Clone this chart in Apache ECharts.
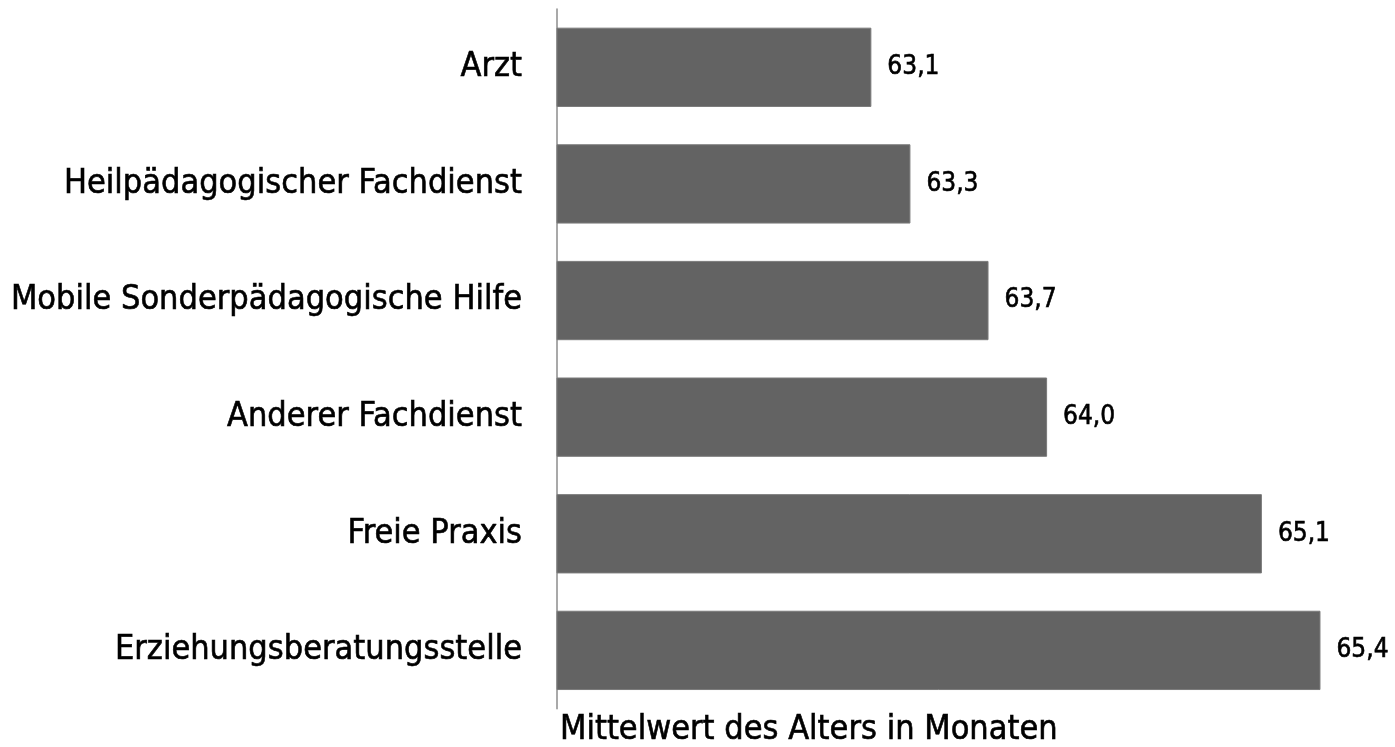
<!DOCTYPE html>
<html>
<head>
<meta charset="utf-8">
<script src="https://cdn.jsdelivr.net/npm/echarts@6/dist/echarts.min.js"></script>
<style>
  html, body { margin: 0; padding: 0; background: #fff; }
  #container { width: 1395px; height: 747px; }
</style>
</head>
<body>
<div id="container"></div>
<script>
var stellen = ['Arzt', 'Heilpädagogischer Fachdienst', 'Mobile Sonderpädagogische Hilfe',
  'Anderer Fachdienst', 'Freie Praxis', 'Erziehungsberatungsstelle'];
var mittelwerte = [63.1, 63.3, 63.7, 64.0, 65.1, 65.4];
var achsenName = 'Mittelwert des Alters in Monaten';

var font = '"Liberation Sans Narrow", "DejaVu Sans Condensed", "Liberation Sans", sans-serif';
// text in the original is slightly heavier than the regular narrow face
var dick = { textBorderColor: '#000', textBorderWidth: 0.6 };

var chart = echarts.init(document.getElementById('container'));
var option = {
  backgroundColor: '#fff',
  animation: false,
  grid: { left: 557, right: 55, top: 9, bottom: 37 },
  xAxis: {
    type: 'value',
    min: 61.49,
    max: 65.5,
    axisLine: { show: false },
    axisTick: { show: false },
    axisLabel: { show: false },
    splitLine: { show: false },
    name: achsenName,
    nameLocation: 'start',
    nameGap: -3,
    nameTextStyle: Object.assign({
      fontFamily: font, fontSize: 34, color: '#000',
      align: 'left', verticalAlign: 'top', padding: [4, 0, 0, 0]
    }, dick)
  },
  yAxis: {
    type: 'category',
    inverse: true,
    data: stellen,
    axisLine: { show: true, lineStyle: { color: '#8c8c8c', width: 1.5 } },
    axisTick: { show: false },
    axisLabel: Object.assign({ fontFamily: font, fontSize: 34, color: '#000', margin: 35 }, dick)
  },
  series: [{
    type: 'bar',
    data: mittelwerte,
    barWidth: '68%',
    itemStyle: { color: '#636363', borderColor: '#7a7a7a', borderWidth: 1 },
    label: Object.assign({
      show: true,
      position: 'right',
      distance: 16,
      fontFamily: font,
      fontSize: 26,
      color: '#000',
      formatter: function (p) { return p.value.toFixed(1).replace('.', ','); }
    }, dick)
  }]
};
chart.setOption(option);
</script>
</body>
</html>
